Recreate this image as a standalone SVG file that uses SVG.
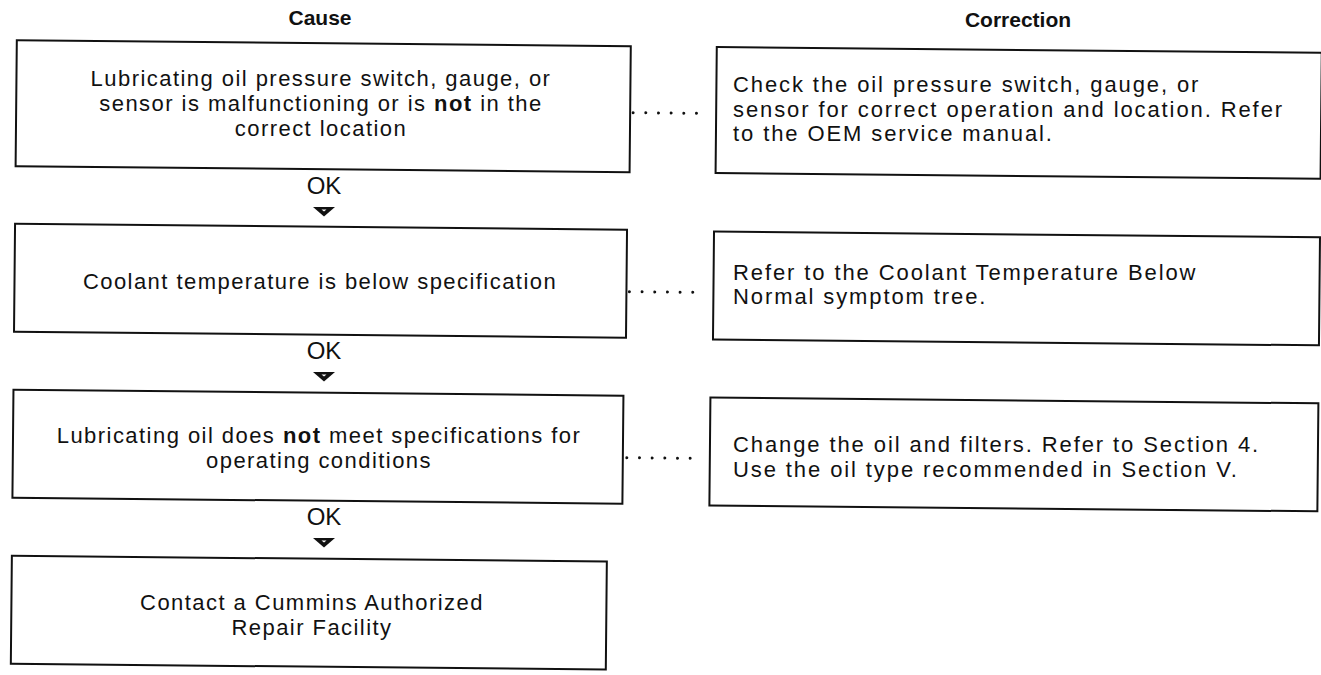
<svg xmlns="http://www.w3.org/2000/svg" width="1321" height="675" viewBox="0 0 1321 675">
<style>
.box{fill:#fff;stroke:#111;stroke-width:2}
.t{font-family:"Liberation Sans",Arial,sans-serif;font-size:22px;fill:#111;letter-spacing:1.45px}
.r{letter-spacing:1.9px}
.c{text-anchor:middle}
.ok{font-family:"Liberation Sans",Arial,sans-serif;font-size:24px;fill:#111;text-anchor:middle}
.h{font-family:"Liberation Sans",Arial,sans-serif;font-size:21px;font-weight:bold;fill:#111;text-anchor:middle}
.b{font-weight:bold}
.dots{stroke:#111;stroke-width:3;stroke-linecap:round;stroke-dasharray:0 12.67;fill:none}
</style>
<defs>
<g id="arrow">
<path d="M-11,0 L11,0 L0,9.5 Z" fill="#111"/>
<path d="M-2.5,2.5 L2.5,2.5 L0,4.5 Z" fill="#fff"/>
</g>
</defs>
<rect width="1321" height="675" fill="#fff"/>
<text class="h" x="320" y="25">Cause</text>
<text class="h" x="1018" y="27">Correction</text>

<g id="connectors">
<g transform="rotate(0.55 660 337)">
<line class="dots" x1="631" y1="113" x2="707" y2="113"/>
<line class="dots" x1="629" y1="292" x2="705" y2="292"/>
<line class="dots" x1="628" y1="458" x2="704" y2="458"/>
</g>
<text class="ok" x="324" y="194">OK</text>
<use href="#arrow" x="324" y="207"/>
<text class="ok" x="324" y="359">OK</text>
<use href="#arrow" x="324" y="372"/>
<text class="ok" x="324" y="525">OK</text>
<use href="#arrow" x="324" y="538"/>
</g>

<g id="cause1">
<rect class="box" x="14" y="46.5" width="614" height="126" transform="rotate(0.55 660 337)"/>
<text class="t c"><tspan x="321" y="86">Lubricating oil pressure switch, gauge, or</tspan><tspan x="321" y="111">sensor is malfunctioning or is <tspan class="b">not</tspan> in the</tspan><tspan x="321" y="136">correct location</tspan></text>
</g>
<g id="cause2">
<rect class="box" x="14" y="230" width="612" height="108" transform="rotate(0.55 660 337)"/>
<text class="t c" x="320" y="289">Coolant temperature is below specification</text>
</g>
<g id="cause3">
<rect class="box" x="14" y="396" width="610" height="108" transform="rotate(0.55 660 337)"/>
<text class="t c"><tspan x="319" y="443">Lubricating oil does <tspan class="b">not</tspan> meet specifications for</tspan><tspan x="319" y="468">operating conditions</tspan></text>
</g>
<g id="cause4">
<rect class="box" x="14" y="562" width="595" height="108" transform="rotate(0.55 660 337)"/>
<text class="t c"><tspan x="312" y="610">Contact a Cummins Authorized</tspan><tspan x="312" y="635">Repair Facility</tspan></text>
</g>

<g id="correction1">
<rect class="box" x="714" y="46.5" width="605" height="126" transform="rotate(0.55 660 337)"/>
<text class="t r"><tspan x="733" y="92">Check the oil pressure switch, gauge, or</tspan><tspan x="733" y="117">sensor for correct operation and location. Refer</tspan><tspan x="733" y="141">to the OEM service manual.</tspan></text>
</g>
<g id="correction2">
<rect class="box" x="713" y="231" width="606" height="108" transform="rotate(0.55 660 337)"/>
<text class="t r"><tspan x="733" y="280">Refer to the Coolant Temperature Below</tspan><tspan x="733" y="304">Normal symptom tree.</tspan></text>
</g>
<g id="correction3">
<rect class="box" x="711" y="397" width="608" height="108" transform="rotate(0.55 660 337)"/>
<text class="t r"><tspan x="733" y="452">Change the oil and filters. Refer to Section 4.</tspan><tspan x="733" y="477">Use the oil type recommended in Section V.</tspan></text>
</g>
</svg>
